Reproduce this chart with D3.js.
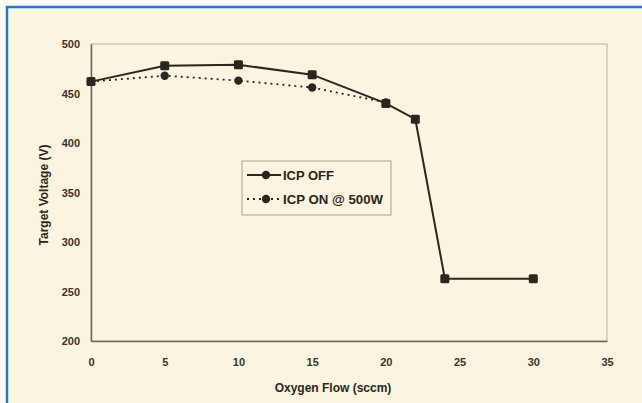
<!DOCTYPE html>
<html><head><meta charset="utf-8">
<script src="https://cdn.jsdelivr.net/npm/d3@7"></script>
<style>
html,body{margin:0;padding:0;background:#fff;}
svg{display:block;}
</style></head>
<body>
<svg id="c" width="642" height="403"></svg>
<script>
const flows = [0, 5, 10, 15, 20, 22, 24, 30];
const icpOff = [462, 478, 479, 469, 440, 424, 263, 263];
const icpOnFlows = [0, 5, 10, 15, 20];
const icpOn = [462, 468, 463, 456, 441];
const xTicks = [0, 5, 10, 15, 20, 25, 30, 35];
const yTicks = [200, 250, 300, 350, 400, 450, 500];
const seriesNames = ["ICP OFF", "ICP ON @ 500W"];

const svg = d3.select("#c");
const W = 642, H = 403;
const bg = "#FAF4E0", ink = "#2a2620";

svg.append("rect").attr("x", 0).attr("y", 0).attr("width", W).attr("height", H).attr("fill", "#fff");
svg.append("rect").attr("x", 7).attr("y", 7).attr("width", W - 5).attr("height", H).attr("fill", bg)
  .attr("stroke", "#2A78C2").attr("stroke-width", 2.5);

const x = d3.scaleLinear().domain([0, 35]).range([91, 607]);
const y = d3.scaleLinear().domain([200, 500]).range([341, 44]);

svg.append("rect").attr("x", 91).attr("y", 44).attr("width", 516).attr("height", 297)
  .attr("fill", "none").attr("stroke", "#b9b2a0").attr("stroke-width", 1);

const fontF = "Arial, 'Liberation Sans', sans-serif";

const xAxis = d3.axisBottom(x).tickValues(xTicks).tickSize(0).tickPadding(17);
const gx = svg.append("g").attr("transform", "translate(0,341)").call(xAxis);
gx.select(".domain").attr("stroke", "#6b655a").attr("stroke-width", 1.5);
gx.selectAll("text").attr("font-family", fontF).attr("font-size", 11).attr("font-weight", "bold").attr("fill", "#3a352c");

const yAxis = d3.axisLeft(y).tickValues(yTicks).tickSize(0).tickPadding(11);
const gy = svg.append("g").attr("transform", "translate(91,0)").call(yAxis);
gy.select(".domain").attr("stroke", "#6b655a").attr("stroke-width", 1.5);
gy.selectAll("text").attr("font-family", fontF).attr("font-size", 11).attr("font-weight", "bold").attr("fill", "#3a352c");

svg.append("text").attr("x", 333).attr("y", 392).attr("text-anchor", "middle")
  .attr("font-family", fontF).attr("font-size", 12).attr("font-weight", "bold").attr("fill", ink)
  .text("Oxygen Flow (sccm)");
svg.append("text").attr("transform", "translate(48,195) rotate(-90)").attr("text-anchor", "middle")
  .attr("font-family", fontF).attr("font-size", 12).attr("font-weight", "bold").attr("fill", ink)
  .text("Target Voltage (V)");

const line = d3.line().x(d => x(d[0])).y(d => y(d[1]));
const onData = icpOnFlows.map((f, i) => [f, icpOn[i]]);
const offData = flows.map((f, i) => [f, icpOff[i]]);

svg.append("path").datum(onData).attr("d", line).attr("fill", "none")
  .attr("stroke", ink).attr("stroke-width", 1.8).attr("stroke-dasharray", "2,4");
svg.selectAll(".mon").data(onData).enter().append("circle")
  .attr("cx", d => x(d[0])).attr("cy", d => y(d[1])).attr("r", 4.2).attr("fill", ink);

svg.append("path").datum(offData).attr("d", line).attr("fill", "none")
  .attr("stroke", ink).attr("stroke-width", 2);
svg.selectAll(".moff").data(offData).enter().append("rect")
  .attr("x", d => x(d[0]) - 4.5).attr("y", d => y(d[1]) - 4.5).attr("width", 9).attr("height", 9)
  .attr("rx", 1.5).attr("fill", ink);

const lg = svg.append("g");
lg.append("rect").attr("x", 242).attr("y", 161).attr("width", 149).attr("height", 54)
  .attr("fill", bg).attr("stroke", "#a8a190").attr("stroke-width", 1);
lg.append("line").attr("x1", 247).attr("x2", 281).attr("y1", 175).attr("y2", 175)
  .attr("stroke", ink).attr("stroke-width", 2);
lg.append("circle").attr("cx", 266).attr("cy", 175).attr("r", 4.2).attr("fill", ink);
lg.append("line").attr("x1", 247).attr("x2", 281).attr("y1", 199).attr("y2", 199)
  .attr("stroke", ink).attr("stroke-width", 1.8).attr("stroke-dasharray", "2,4");
lg.append("circle").attr("cx", 266).attr("cy", 199).attr("r", 4.2).attr("fill", ink);
lg.selectAll(".lt").data(seriesNames).enter().append("text")
  .attr("x", 283).attr("y", (d, i) => 179.5 + i * 24)
  .attr("font-family", fontF).attr("font-size", 12).attr("font-weight", "bold").attr("fill", ink)
  .attr("textLength", (d, i) => i === 0 ? 51 : 100).attr("lengthAdjust", "spacingAndGlyphs")
  .text(d => d);
</script>
</body></html>
